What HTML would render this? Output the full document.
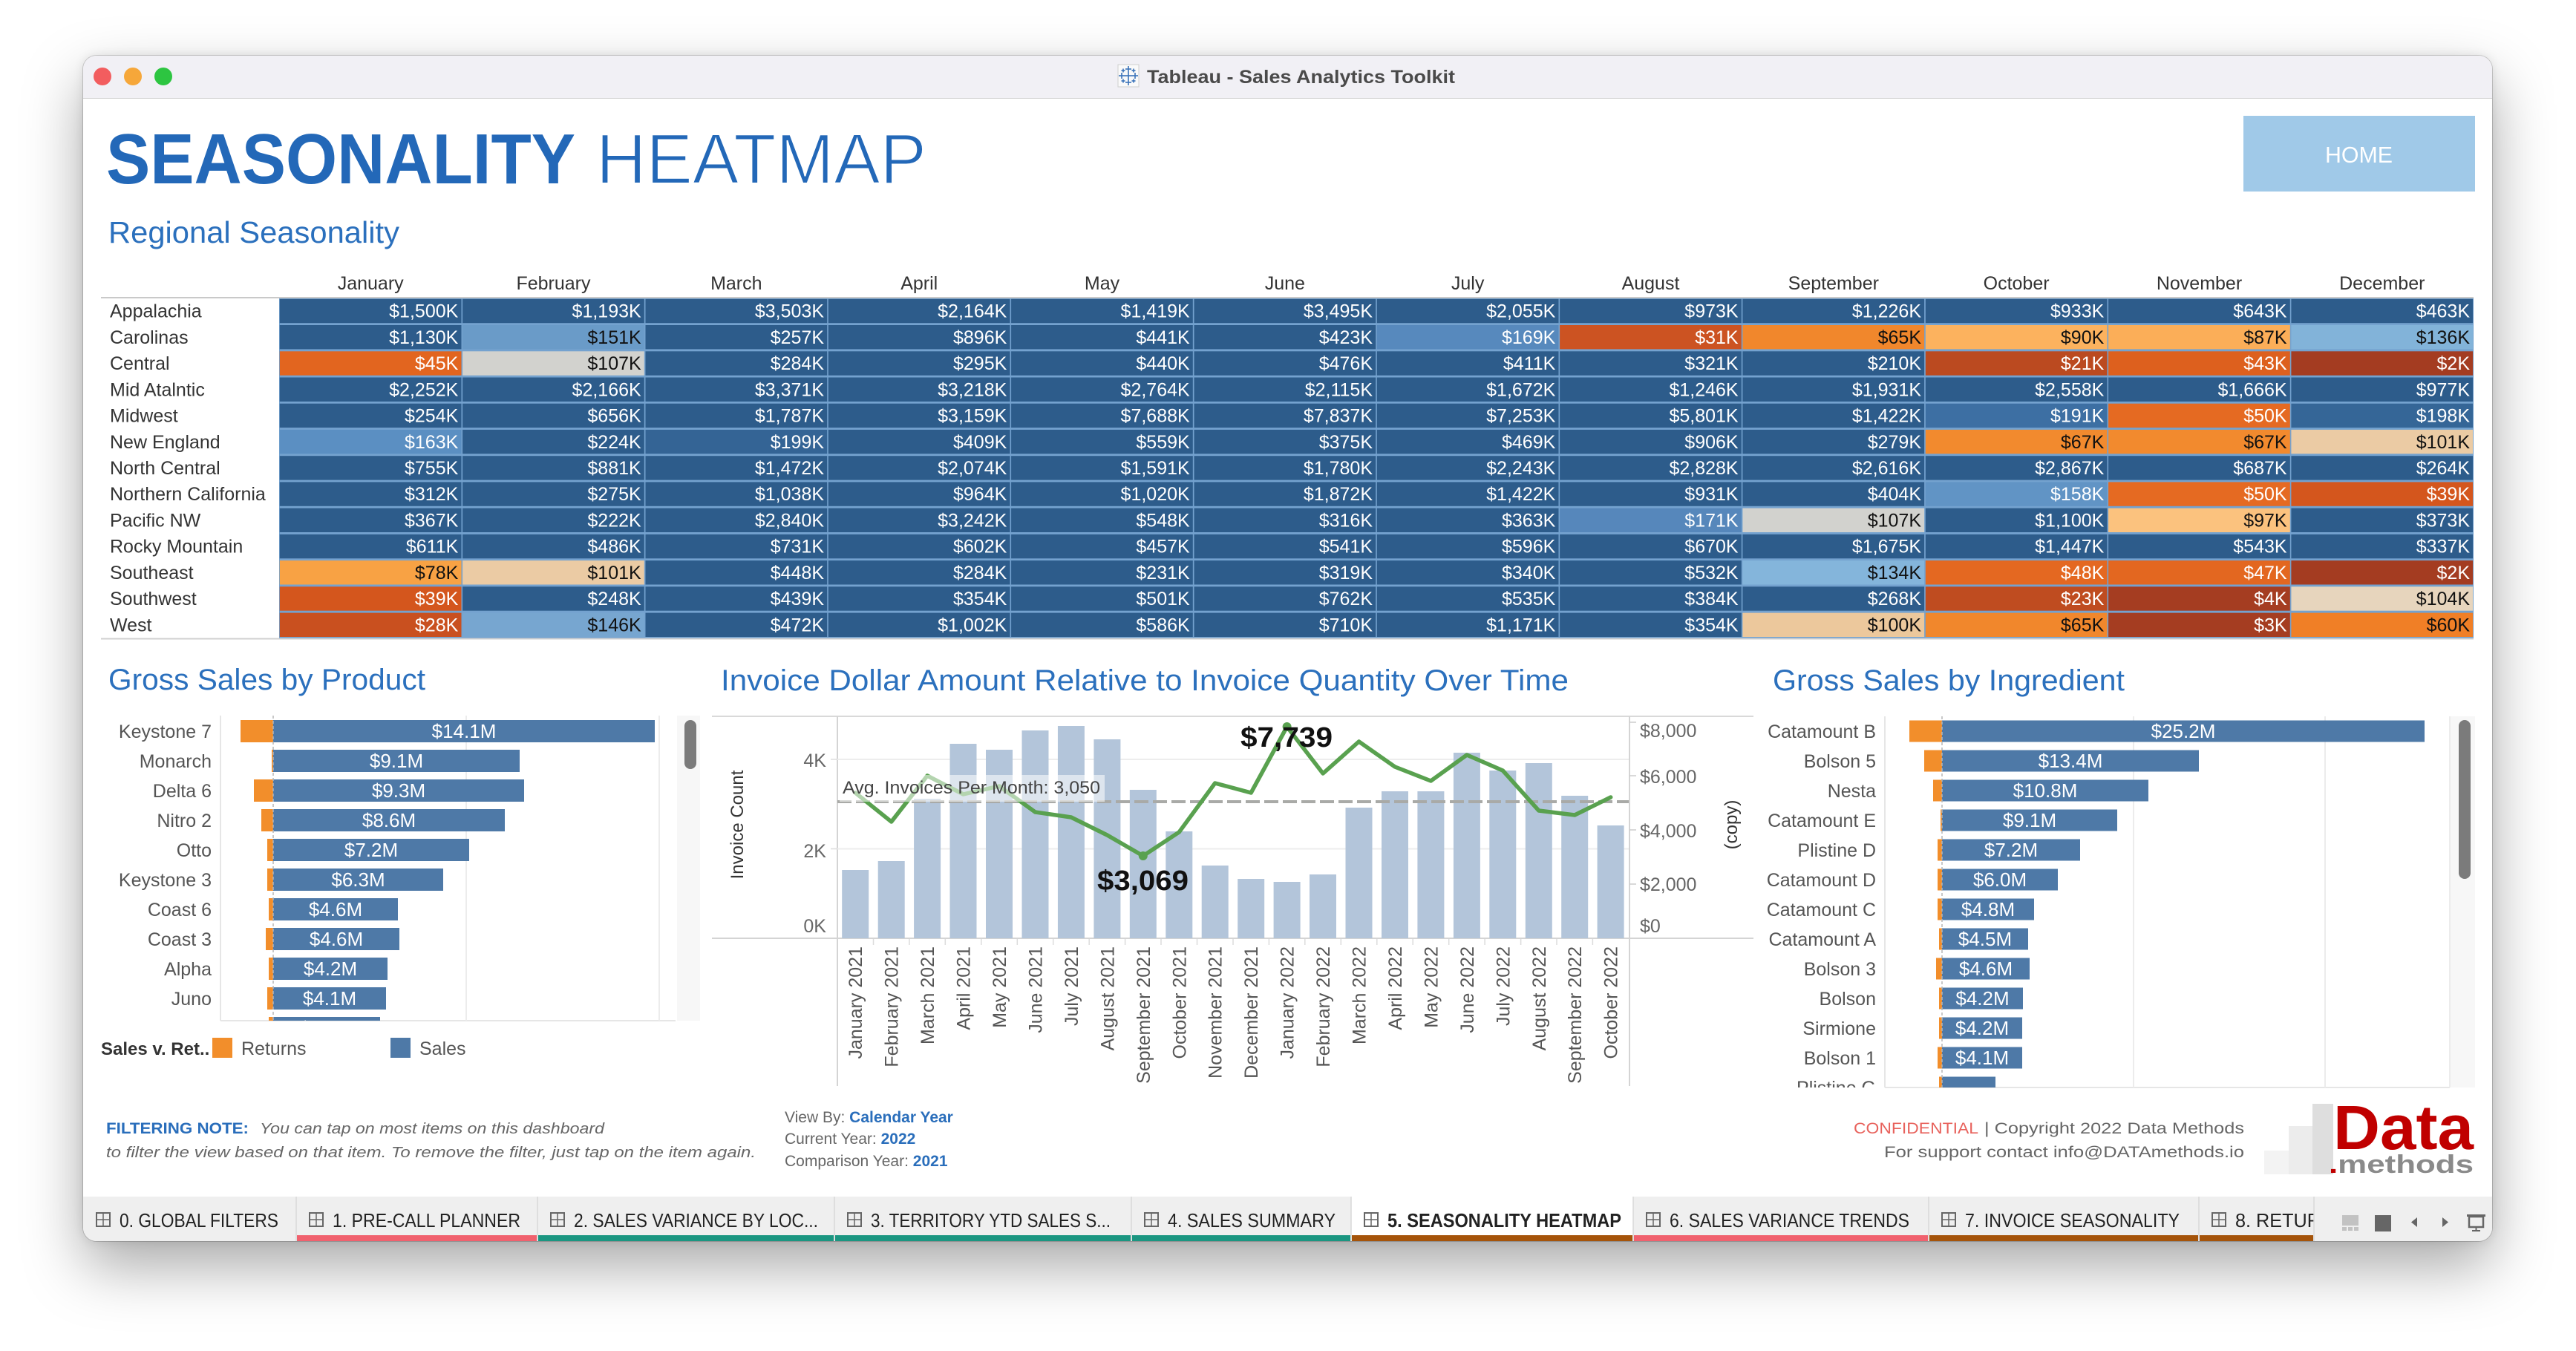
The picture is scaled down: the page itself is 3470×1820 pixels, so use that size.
<!DOCTYPE html>
<html><head><meta charset="utf-8">
<style>
html,body{margin:0;padding:0;width:3470px;height:1820px;overflow:hidden;background:#fff;}
#win{position:absolute;left:112px;top:75px;width:3245px;height:1597px;border-radius:18px;background:#fff;box-shadow:0 34px 80px rgba(0,0,0,0.34),0 0 14px rgba(0,0,0,0.10),0 0 0 1px rgba(0,0,0,0.16);overflow:hidden;}
#tb{position:absolute;left:0;top:0;width:100%;height:57px;background:#f1f0f5;border-bottom:1px solid #d4d4d4;}
#tabs{position:absolute;left:0;top:1537px;width:100%;height:60px;background:#efefef;}
svg{position:absolute;left:0;top:0;}
text{font-family:"Liberation Sans",sans-serif;}
</style></head><body>
<div id="win"><div id="tb"></div><div id="tabs"></div></div>
<svg id="s" width="3470" height="1820" viewBox="0 0 3470 1820" xmlns="http://www.w3.org/2000/svg">
<defs>
<clipPath id="cp1"><rect x="110" y="964" width="810" height="411"/></clipPath>
<clipPath id="cp2"><rect x="2380" y="965" width="925" height="500"/></clipPath>
<clipPath id="cp3"><rect x="112" y="1612" width="3005" height="60"/></clipPath>
</defs>
<g id="g"></g>
</svg>
<script>
var o=[];
function R(x,y,w,h,f,e){o.push('<rect x="'+x+'" y="'+y+'" width="'+w+'" height="'+h+'" fill="'+f+'" '+(e||'')+'/>');}
function L(x1,y1,x2,y2,s,w,e){o.push('<line x1="'+x1+'" y1="'+y1+'" x2="'+x2+'" y2="'+y2+'" stroke="'+s+'" stroke-width="'+w+'" '+(e||'')+'/>');}
function T(x,y,str,sz,f,anc,e){o.push('<text x="'+x+'" y="'+y+'" font-size="'+sz+'" fill="'+f+'" text-anchor="'+(anc||'start')+'" '+(e||'')+'>'+str+'</text>');}
function TL(x,y,str,sz,f,len,e){o.push('<text x="'+x+'" y="'+y+'" font-size="'+sz+'" fill="'+f+'" textLength="'+len+'" lengthAdjust="spacingAndGlyphs" '+(e||'')+'>'+str+'</text>');}
function hx(c){return [parseInt(c.substr(1,2),16),parseInt(c.substr(3,2),16),parseInt(c.substr(5,2),16)];}
function mix(a,b,t){a=hx(a);b=hx(b);var r=[0,1,2].map(function(i){return Math.round(a[i]+(b[i]-a[i])*t);});return 'rgb('+r.join(',')+')';}
var stops=[[0,'#a33b21'],[4,'#a53d21'],[21,'#bb4a20'],[28,'#c9501f'],[31,'#cc5322'],[39,'#d4561d'],[45,'#e2651f'],[50,'#e56a22'],[60,'#f07f26'],[67,'#f28a2e'],[78,'#f8a244'],[90,'#fcb25e'],[97,'#fbc27e'],[100,'#ecc89c'],[104,'#e7d5bd'],[107,'#d2d2ce'],[120,'#a3c6e2'],[134,'#84b5db'],[146,'#77a6d0'],[151,'#6a9bc8'],[163,'#5b8fc2'],[171,'#5687bb'],[191,'#3d6fa3'],[205,'#2d5c8b']];
function col(v){if(v>=205)return '#2d5c8b';for(var i=1;i<stops.length;i++){if(v<=stops[i][0]){var a=stops[i-1],b=stops[i];return mix(a[1],b[1],(v-a[0])/(b[0]-a[0]));}}}
function fmt(v){return '$'+v.toString().replace(/\B(?=(\d{3})+(?!\d))/g,',')+'K';}

/* title bar */
o.push('<circle cx="138" cy="103" r="12" fill="#f25d5f"/><circle cx="179" cy="103" r="12" fill="#f6a73a"/><circle cx="220" cy="103" r="12" fill="#2dc541"/>');
R(1506,87,28,30,'#fafafa','stroke="#cfcfcf" stroke-width="1"');
o.push('<g stroke="#3b73b9" stroke-width="1.6">'+[[1520,93,4],[1520,111,4],[1511,102,4],[1529,102,4],[1520,102,5],[1513,95,2.5],[1527,95,2.5],[1513,109,2.5],[1527,109,2.5]].map(function(p){return '<line x1="'+(p[0]-p[2])+'" y1="'+p[1]+'" x2="'+(p[0]+p[2])+'" y2="'+p[1]+'"/><line x1="'+p[0]+'" y1="'+(p[1]-p[2])+'" x2="'+p[0]+'" y2="'+(p[1]+p[2])+'"/>';}).join('')+'</g>');
TL(1545,112,'Tableau - Sales Analytics Toolkit',25,'#4a4a4a',415,'font-weight="bold"');

/* header */
TL(143,247,'SEASONALITY',96,'#2368b8',632,'font-weight="bold"');
TL(803,247,'HEATMAP',96,'#2368b8',445,'stroke="#fff" stroke-width="2"');
TL(146,327,'Regional Seasonality',41,'#2b70bd',392);
R(3022,156,312,102,'#a0c9e8');
TL(3132,219,'HOME',31,'#fff',91);

/* heatmap */
var months=['January','February','March','April','May','June','July','August','September','October','November','December'];
var rows=[['Appalachia',[1500,1193,3503,2164,1419,3495,2055,973,1226,933,643,463]],
['Carolinas',[1130,151,257,896,441,423,169,31,65,90,87,136]],
['Central',[45,107,284,295,440,476,411,321,210,21,43,2]],
['Mid Atalntic',[2252,2166,3371,3218,2764,2115,1672,1246,1931,2558,1666,977]],
['Midwest',[254,656,1787,3159,7688,7837,7253,5801,1422,191,50,198]],
['New England',[163,224,199,409,559,375,469,906,279,67,67,101]],
['North Central',[755,881,1472,2074,1591,1780,2243,2828,2616,2867,687,264]],
['Northern California',[312,275,1038,964,1020,1872,1422,931,404,158,50,39]],
['Pacific NW',[367,222,2840,3242,548,316,363,171,107,1100,97,373]],
['Rocky Mountain',[611,486,731,602,457,541,596,670,1675,1447,543,337]],
['Southeast',[78,101,448,284,231,319,340,532,134,48,47,2]],
['Southwest',[39,248,439,354,501,762,535,384,268,23,4,104]],
['West',[28,146,472,1002,586,710,1171,354,100,65,3,60]]];
var HX=376,CW=246.33,HY=401.5,RH=35.23;
months.forEach(function(m,j){T((HX+j*CW+CW/2).toFixed(1),390,m,25,'#333','middle');});
R(HX,HY,2956,RH*13,'#74a2cf');
L(136,401,3332,401,'#c9c9c9',2);
L(136,860.5,3332,860.5,'#d0d0d0',2);
rows.forEach(function(r,i){
  var y0=HY+i*RH, cy=y0+RH/2;
  T(148,(cy+8.5).toFixed(1),r[0],25,'#333');
  r[1].forEach(function(v,j){
    var x=HX+j*CW;
    R((x+0.8).toFixed(1),(y0+1.3).toFixed(1),(CW-1.6).toFixed(1),(RH-2.8).toFixed(1),col(v));
    T((x+CW-5).toFixed(1),(cy+8.5).toFixed(1),fmt(v),25,(v>55&&v<156)?'#111':'#fff','end');
  });
});

/* section titles */
TL(146,929,'Gross Sales by Product',40,'#2b70bd',427);
TL(971,930,'Invoice Dollar Amount Relative to Invoice Quantity Over Time',40,'#2b70bd',1142);
TL(2388,930,'Gross Sales by Ingredient',40,'#2b70bd',474);

/* product chart */
L(297,964,297,1375,'#e6e6e6',2);L(297,1375,910,1375,'#e6e6e6',2);
L(628,964,628,1375,'#ececec',2);L(888,964,888,1375,'#ececec',2);
R(912,964,31,411,'#f7f7f7');R(922,970,16,66,'#7b7b7b','rx="8"');
var prods=[['Keystone 7','$14.1M',882,324],['Monarch','$9.1M',700,366],['Delta 6','$9.3M',706,342],['Nitro 2','$8.6M',680,352],['Otto','$7.2M',632,360],['Keystone 3','$6.3M',597,360],['Coast 6','$4.6M',536,362],['Coast 3','$4.6M',538,358],['Alpha','$4.2M',522,362],['Juno','$4.1M',520,360],['Sidewinder 4','$3.8M',512,362]];
o.push('<g clip-path="url(#cp1)">');
prods.forEach(function(p,i){
  var cy=985+40*i;
  T(285,cy+9,p[0],25,'#555','end');
  R(p[3],cy-15,368-p[3],30,'#f28e2b');
  R(368,cy-15,p[2]-368,30,'#4e79a7');
  T(((368+p[2])/2).toFixed(1),cy+9,p[1],26,'#fff','middle');
});
o.push('</g>');
L(368,964,368,1375,'#b5b5b5',1.5,'stroke-dasharray="4 3"');
T(136,1421,'Sales v. Ret..',24,'#333','start','font-weight="bold"');
R(286,1398,27,27,'#f28e2b');T(325,1421,'Returns',25,'#555');
R(526,1398,27,27,'#4e79a7');T(565,1421,'Sales',25,'#555');

/* invoice chart */
L(959,965,2362,965,'#d9d9d9',2);L(959,1264,2362,1264,'#d4d4d4',2);
L(1128,965,1128,1463,'#d4d4d4',2);L(2195,965,2195,1463,'#d4d4d4',2);
L(1128,1023,2194,1023,'#ededed',2);L(1128,1143.5,2194,1143.5,'#ededed',2);
L(1119,1023,1128,1023,'#ddd',1.5);L(1119,1143.5,1128,1143.5,'#ddd',1.5);
[973,1045,1118,1191].forEach(function(y){L(2195,y,2204,y,'#ccc',1.5);});
var SW=48.45;
var tops=[1172,1160,1076,1002,1010,984,978,996,1064,1120,1166,1184,1188,1178,1088,1066,1066,1014,1038,1028,1072,1112];
tops.forEach(function(t,i){R((1128+i*SW+6.2).toFixed(1),t,36,1264-t,'#b3c5da');});
for(var i=1;i<22;i++){var xx=(1128+i*SW).toFixed(1);L(xx,1265,xx,1273,'#dcdcdc',1.5);}
var ly=[1068,1107,1045,1070,1059,1094,1101,1125,1153,1121,1055,1068,979,1042,999,1033,1052,1017,1038,1092,1098,1074];
L(1128,1080,2194,1080,'#a9aaa7',4,'stroke-dasharray="19 6"');
o.push('<polyline fill="none" stroke="#59a14f" stroke-width="5.5" stroke-linejoin="round" stroke-linecap="round" points="'+ly.map(function(y,i){return (1128+i*SW+SW/2).toFixed(1)+','+y;}).join(' ')+'"/>');
o.push('<circle cx="'+(1128+8*SW+SW/2).toFixed(1)+'" cy="1153" r="6" fill="#59a14f"/>');
o.push('<circle cx="'+(1128+12*SW+SW/2).toFixed(1)+'" cy="979" r="6" fill="#59a14f"/>');
R(1131,1044,357,36,'#fff','fill-opacity="0.55"');
TL(1135,1069,'Avg. Invoices Per Month: 3,050',24,'#444',347);
TL(1671,1006,'$7,739',38,'#111',124,'font-weight="bold"');
TL(1478,1199,'$3,069',38,'#111',123,'font-weight="bold"');
T(1113,1033,'4K',25,'#666','end');T(1113,1155,'2K',25,'#666','end');T(1113,1256,'0K',25,'#666','end');
o.push('<text transform="translate(1001,1111) rotate(-90)" font-size="24" fill="#333" text-anchor="middle">Invoice Count</text>');
T(2209,993,'$8,000',25,'#666');T(2209,1055,'$6,000',25,'#666');T(2209,1128,'$4,000',25,'#666');T(2209,1200,'$2,000',25,'#666');T(2209,1256,'$0',25,'#666');
o.push('<text transform="translate(2340,1111) rotate(-90)" font-size="24" fill="#333" text-anchor="middle">(copy)</text>');
for(var i=0;i<22;i++){
  var lab=(i<12?months[i]+' 2021':months[i-12]+' 2022');
  var cx=(1128+i*SW+SW/2+9).toFixed(1);
  o.push('<text transform="translate('+cx+',1275) rotate(-90)" font-size="25" fill="#555" text-anchor="end">'+lab+'</text>');
}

/* ingredient chart */
L(2539,965,2539,1465,'#e6e6e6',2);L(2539,1465,3300,1465,'#e6e6e6',2);
L(2874,965,2874,1465,'#ececec',2);L(3132,965,3132,1465,'#ececec',2);L(3300,965,3300,1465,'#ececec',2);
R(3301,965,33,500,'#f7f7f7');R(3312,970,16,214,'#7b7b7b','rx="8"');
var ings=[['Catamount B','$25.2M',3266,2572],['Bolson 5','$13.4M',2962,2592],['Nesta','$10.8M',2894,2604],['Catamount E','$9.1M',2852,2614],['Plistine D','$7.2M',2802,2610],['Catamount D','$6.0M',2772,2610],['Catamount C','$4.8M',2740,2610],['Catamount A','$4.5M',2732,2612],['Bolson 3','$4.6M',2734,2608],['Bolson','$4.2M',2725,2612],['Sirmione','$4.2M',2724,2612],['Bolson 1','$4.1M',2724,2610],['Plistine G','$3.0M',2688,2612]];
o.push('<g clip-path="url(#cp2)">');
ings.forEach(function(p,i){
  var cy=985+40*i;
  T(2527,cy+9,p[0],25,'#555','end');
  R(p[3],cy-14.5,2616-p[3],29,'#f28e2b');
  R(2616,cy-14.5,p[2]-2616,29,'#4e79a7');
  if(i<12)T(((2616+p[2])/2).toFixed(1),cy+9,p[1],26,'#fff','middle');
});
o.push('</g>');
L(2616,965,2616,1465,'#b5b5b5',1.5,'stroke-dasharray="4 3"');

/* footer */
TL(143,1527,'FILTERING NOTE:',21,'#2a6ebb',192,'font-weight="bold"');
TL(350,1527,'You can tap on most items on this dashboard',20,'#666',464,'font-style="italic"');
TL(143,1559,'to filter the view based on that item.  To remove the filter, just tap on the item again.',20,'#666',875,'font-style="italic"');
o.push('<text x="1057" y="1512" font-size="21" fill="#666">View By: <tspan fill="#2a6ebb" font-weight="bold">Calendar Year</tspan></text>');
o.push('<text x="1057" y="1541" font-size="21" fill="#666">Current Year: <tspan fill="#2a6ebb" font-weight="bold">2022</tspan></text>');
o.push('<text x="1057" y="1571" font-size="21" fill="#666">Comparison Year: <tspan fill="#2a6ebb" font-weight="bold">2021</tspan></text>');
TL(2497,1527,'CONFIDENTIAL',21,'#e8625c',168);
TL(2673,1527,'| Copyright 2022 Data Methods',21,'#666',350);
TL(2538,1559,'For support contact info@DATAmethods.io',21,'#666',485);
R(3050,1550,33,32,'#f3f3f3');R(3083,1517,32,65,'#ececec');R(3115,1487,28,95,'#dedede');
TL(3143,1548,'Data',84,'#c00000',189,'font-weight="bold"');
o.push('<text x="3137" y="1580" font-size="34" font-weight="bold" fill="#8a8a8a" textLength="195" lengthAdjust="spacingAndGlyphs"><tspan fill="#c00000">.</tspan>methods</text>');

/* tabs */
var tb=[112,399,724,1124,1524,1820,2200,2598,2962,3117];
var tl=[['0. GLOBAL FILTERS',214],['1. PRE-CALL PLANNER',253],['2. SALES VARIANCE BY LOC...',329],['3. TERRITORY YTD SALES S...',323],['4. SALES SUMMARY',226],['5. SEASONALITY HEATMAP',315],['6. SALES VARIANCE TRENDS',323],['7. INVOICE SEASONALITY',289],['8. RETURNS',150]];
var uc=[null,'#f0616e','#1b9681','#1b9681','#1b9681','#a5540a','#f0616e','#a5540a','#a5540a'];
o.push('<g clip-path="url(#cp3)">');
R(1820,1612,380,60,'#fff');
for(var i=0;i<9;i++){
  var a=tb[i],b=tb[i+1];
  if(i>0)L(a,1612,a,1672,'#d8d8d8',1.5);
  if(uc[i])R(a+1,1664,b-a-2,8,uc[i]);
  var tx=(i==0?161:a+49);
  var ix=tx-31;
  R(ix,1634,18,18,'none','stroke="#666" stroke-width="2"');
  L(ix+9,1634,ix+9,1652,'#666',1.5);L(ix,1643,ix+18,1643,'#666',1.5);
  TL(tx,1653,tl[i][0],26,'#222',tl[i][1],i==5?'font-weight="bold"':'');
}
o.push('</g>');
L(3117,1612,3117,1672,'#d8d8d8',1.5);
R(3155,1637,22,14,'#c2c2c2');R(3155,1653,6,5,'#c2c2c2');R(3163,1653,6,5,'#c2c2c2');R(3171,1653,6,5,'#c2c2c2');
R(3199,1637,22,22,'#666');
o.push('<polygon points="3256,1640 3256,1653 3248,1646.5" fill="#666"/><polygon points="3290,1640 3290,1653 3298,1646.5" fill="#666"/>');
R(3323,1636,25,3,'#666');R(3326,1639,19,14,'none','stroke="#666" stroke-width="2.5"');L(3335.5,1653,3335.5,1658,'#666',2);L(3330,1658,3341,1658,'#666',2);

document.getElementById('g').innerHTML=o.join('');
</script>
</body></html>
